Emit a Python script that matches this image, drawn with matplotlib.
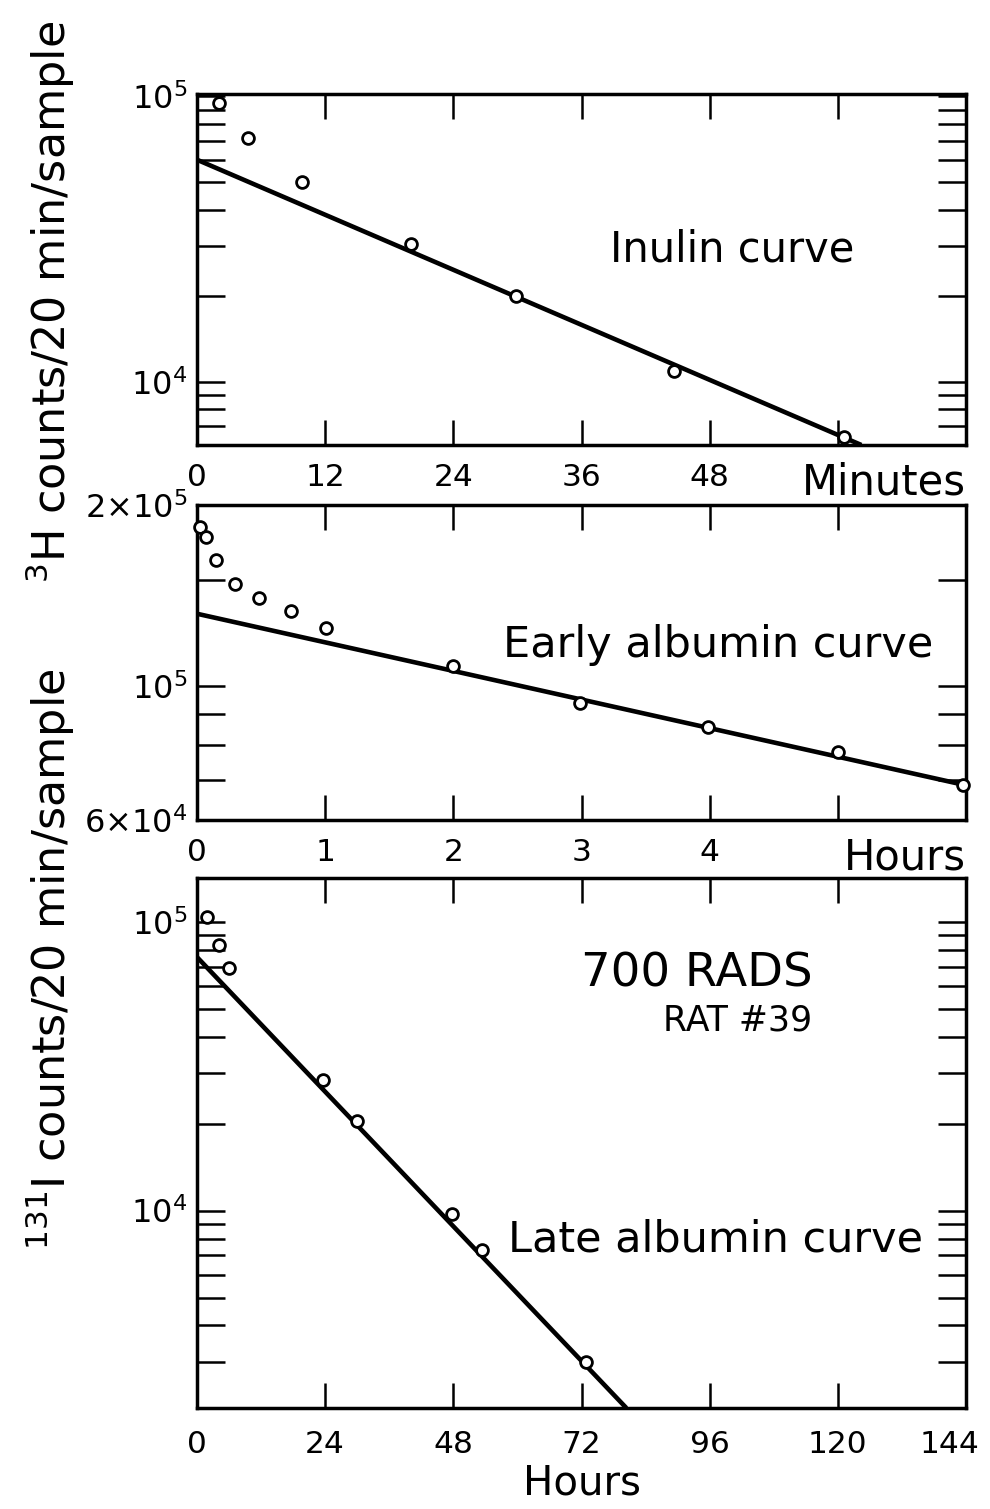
import matplotlib
matplotlib.use("Agg")
import matplotlib.pyplot as plt
from matplotlib.ticker import FixedLocator, FixedFormatter, LogLocator, NullFormatter
from matplotlib.transforms import ScaledTranslation

# inulin curve (minutes)
inulin_t = [2.1, 4.8, 9.8, 20.0, 29.9, 44.7, 60.6]
inulin_counts = [9.45e4, 7.16e4, 5.01e4, 3.05e4, 2.0e4, 1.09e4, 6.4e3]
inulin_fit_t = [0, 62.2]
inulin_fit_counts = [6.0e4, 6.0e3]

# early albumin curve (hours)
early_t = [0.02, 0.07, 0.15, 0.30, 0.48, 0.73, 1.01, 2.0, 2.99, 3.99, 5.0, 5.98]
early_counts = [1.84e5, 1.77e5, 1.62e5, 1.48e5, 1.40e5, 1.335e5, 1.25e5,
                1.08e5, 9.4e4, 8.56e4, 7.78e4, 6.85e4]
early_fit_t = [0, 6]
early_fit_counts = [1.32e5, 6.85e4]

# late albumin curve (hours)
late_t = [1.8, 4.1, 5.9, 23.5, 30.0, 47.8, 53.4, 72.9]
late_counts = [1.04e5, 8.35e4, 6.92e4, 2.83e4, 2.04e4, 9.7e3, 7.33e3, 2.98e3]
late_fit_t = [0, 80.4]
late_fit_counts = [7.56e4, 2.07e3]

minute_ticks = [0, 12, 24, 36, 48, 60, 72]
minute_labels = ["0", "12", "24", "36", "48", "", ""]
early_hour_ticks = [0, 1, 2, 3, 4, 5, 6]
early_hour_labels = ["0", "1", "2", "3", "4", "", ""]
late_hour_ticks = [0, 24, 48, 72, 96, 120, 144]
late_hour_labels = ["0", "24", "48", "72", "96", "120", "144"]


def style_axes(ax, xpad=13):
    for s in ax.spines.values():
        s.set_linewidth(2.5)
    ax.tick_params(which="both", direction="in", top=True, right=True,
                   width=1.8, colors="black")
    ax.tick_params(axis="x", which="major", length=18, pad=xpad, labelsize=22.5)
    ax.tick_params(axis="y", which="both", length=20, pad=7, labelsize=23)


def plot_curve(ax, t, counts, fit_t, fit_counts):
    ax.plot(fit_t, fit_counts, "-", color="black", lw=3.3,
            solid_capstyle="butt", zorder=2)
    ax.plot(t, counts, "o", ms=8.5, mfc="white", mec="black", mew=2.0,
            clip_on=False, zorder=3)


def main():
    fig = plt.figure(figsize=(9.9, 15.09), dpi=100)
    ax1 = fig.add_axes([0.199, 0.7051, 0.7768, 0.2326])
    ax2 = fig.add_axes([0.199, 0.4566, 0.7768, 0.2087])
    ax3 = fig.add_axes([0.199, 0.0669, 0.7768, 0.3512])

    # inulin
    plot_curve(ax1, inulin_t, inulin_counts, inulin_fit_t, inulin_fit_counts)
    ax1.set_yscale("log")
    ax1.set_xlim(0, 72)
    ax1.set_ylim(6e3, 1.02e5)
    ax1.yaxis.set_major_locator(FixedLocator([1e4, 1e5]))
    ax1.yaxis.set_major_formatter(FixedFormatter([r"$10^{4}$", r"$10^{5}$"]))
    ax1.yaxis.set_minor_locator(LogLocator(subs=range(2, 10)))
    ax1.yaxis.set_minor_formatter(NullFormatter())
    ax1.set_xticks(minute_ticks)
    ax1.set_xticklabels(minute_labels)
    style_axes(ax1)
    ax1.annotate("Minutes", xy=(1, 0), xycoords="axes fraction",
                 xytext=(0, -12), textcoords="offset points",
                 ha="right", va="top", fontsize=30)
    ax1.text(0.696, 0.522, "Inulin curve", transform=ax1.transAxes,
             ha="center", va="baseline", fontsize=30)

    # early albumin
    plot_curve(ax2, early_t, early_counts, early_fit_t, early_fit_counts)
    ax2.set_yscale("log")
    ax2.set_xlim(0, 6)
    ax2.set_ylim(6e4, 2e5)
    ax2.yaxis.set_major_locator(FixedLocator([6e4, 1e5, 2e5]))
    ax2.yaxis.set_major_formatter(FixedFormatter(
        [r"$6{\times}10^{4}$", r"$10^{5}$", r"$2{\times}10^{5}$"]))
    ax2.yaxis.set_minor_locator(FixedLocator([7e4, 8e4, 9e4, 1.5e5]))
    ax2.yaxis.set_minor_formatter(NullFormatter())
    ax2.set_xticks(early_hour_ticks)
    ax2.set_xticklabels(early_hour_labels)
    style_axes(ax2)
    ax2.annotate("Hours", xy=(1, 0), xycoords="axes fraction",
                 xytext=(0, -12), textcoords="offset points",
                 ha="right", va="top", fontsize=30)
    ax2.text(0.677, 0.517, "Early albumin curve", transform=ax2.transAxes,
             ha="center", va="baseline", fontsize=31)

    # late albumin
    plot_curve(ax3, late_t, late_counts, late_fit_t, late_fit_counts)
    ax3.set_yscale("log")
    ax3.set_xlim(0, 144)
    ax3.set_ylim(2.07e3, 1.42e5)
    ax3.yaxis.set_major_locator(FixedLocator([1e4, 1e5]))
    ax3.yaxis.set_major_formatter(FixedFormatter([r"$10^{4}$", r"$10^{5}$"]))
    ax3.yaxis.set_minor_locator(LogLocator(subs=range(2, 10)))
    ax3.yaxis.set_minor_formatter(NullFormatter())
    ax3.set_xticks(late_hour_ticks)
    ax3.set_xticklabels(late_hour_labels)
    style_axes(ax3, xpad=16)
    # last label sits a little left of its tick, as in the original
    last = ax3.get_xticklabels()[-1]
    last.set_transform(last.get_transform()
                       + ScaledTranslation(-12 / 72, 0, fig.dpi_scale_trans))
    ax3.set_xlabel("Hours", fontsize=29, labelpad=3)
    ax3.text(0.80, 0.796, "700 RADS", transform=ax3.transAxes,
             ha="right", va="baseline", fontsize=33.5)
    ax3.text(0.80, 0.713, "RAT #39", transform=ax3.transAxes,
             ha="right", va="baseline", fontsize=25)
    ax3.text(0.674, 0.295, "Late albumin curve", transform=ax3.transAxes,
             ha="center", va="baseline", fontsize=31)

    fig.text(0.051, 0.6137, r"$^{3}$H counts/20 min/sample", rotation=90,
             ha="center", va="bottom", fontsize=32)
    fig.text(0.051, 0.1716, r"$^{131}$I counts/20 min/sample", rotation=90,
             ha="center", va="bottom", fontsize=32)

    fig.savefig("out.png", dpi=100, facecolor="white")


if __name__ == "__main__":
    main()
